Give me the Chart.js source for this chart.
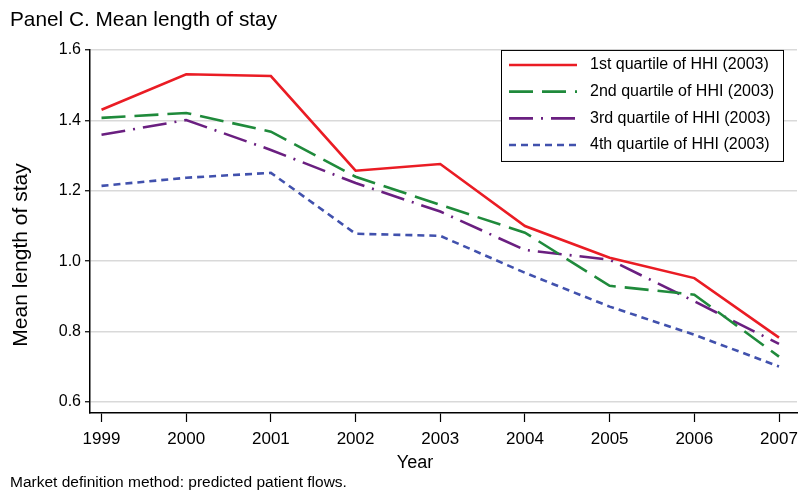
<!DOCTYPE html>
<html>
<head>
<meta charset="utf-8">
<script src="https://cdn.jsdelivr.net/npm/chart.js@4/dist/chart.umd.min.js"></script>
<style>
  html, body { margin: 0; padding: 0; background: #fff; }
  #wrap { width: 801px; height: 492px; }
</style>
</head>
<body>
<div id="wrap"><canvas id="chart"></canvas></div>
<script>
const years = [1999, 2000, 2001, 2002, 2003, 2004, 2005, 2006, 2007];
const q1 = [1.430, 1.531, 1.526, 1.257, 1.276, 1.100, 1.010, 0.952, 0.783];
const q2 = [1.407, 1.421, 1.368, 1.240, 1.160, 1.081, 0.930, 0.905, 0.729];
const q3 = [1.359, 1.401, 1.316, 1.222, 1.141, 1.032, 1.004, 0.886, 0.765];
const q4 = [1.214, 1.237, 1.251, 1.078, 1.072, 0.967, 0.871, 0.791, 0.701];
const yTicks = [0.6, 0.8, 1.0, 1.2, 1.4, 1.6];
const seriesLabels = [
    '1st quartile of HHI (2003)',
    '2nd quartile of HHI (2003)',
    '3rd quartile of HHI (2003)',
    '4th quartile of HHI (2003)'
];

const FONT = '"Liberation Sans", Arial, Helvetica, sans-serif';

const styles = [
    { color: '#ea1c24', dash: [] },
    { color: '#1f8a3b', dash: [24, 9] },
    { color: '#6a1f80', dash: [24, 8, 2, 8] },
    { color: '#4151ad', dash: [7, 5] }
];

const datasets = [q1, q2, q3, q4].map((vals, i) => ({
    label: seriesLabels[i],
    data: years.map((yr, j) => ({ x: yr, y: vals[j] })),
    borderColor: styles[i].color,
    borderDash: styles[i].dash,
    borderWidth: 2.6,
    borderCapStyle: 'butt',
    pointRadius: 0,
    fill: false,
    tension: 0
}));

// legend box inside the plot, plus axis titles and the note
const extras = {
    id: 'extras',
    afterDatasetsDraw(chart) {
        const ctx = chart.ctx;
        const area = chart.chartArea;
        const bx = area.right - 296, by = area.top, bw = 282, bh = 111;
        ctx.save();
        ctx.fillStyle = '#fff';
        ctx.fillRect(bx, by, bw, bh);
        ctx.strokeStyle = '#000';
        ctx.lineWidth = 1;
        ctx.strokeRect(bx + 0.5, by + 0.5, bw, bh);
        chart.data.datasets.forEach((ds, i) => {
            const y = by + 15 + i * 26.7;
            ctx.beginPath();
            ctx.setLineDash(ds.borderDash);
            ctx.strokeStyle = ds.borderColor;
            ctx.lineWidth = 2.6;
            ctx.moveTo(bx + 8, y);
            ctx.lineTo(bx + 76, y);
            ctx.stroke();
            ctx.setLineDash([]);
            ctx.fillStyle = '#000';
            ctx.font = '16px ' + FONT;
            ctx.textBaseline = 'middle';
            ctx.textAlign = 'left';
            ctx.fillText(ds.label, bx + 89, y);
        });
        ctx.restore();
    },
    afterDraw(chart) {
        const ctx = chart.ctx;
        ctx.save();
        ctx.fillStyle = '#000';
        ctx.textBaseline = 'middle';
        // y title
        ctx.save();
        ctx.translate(21, 255);
        ctx.rotate(-Math.PI / 2);
        ctx.textAlign = 'center';
        ctx.font = '21px ' + FONT;
        ctx.fillText('Mean length of stay', 0, 0);
        ctx.restore();
        // x title
        ctx.textAlign = 'center';
        ctx.font = '18px ' + FONT;
        ctx.fillText('Year', 415, 463);
        // note
        ctx.textAlign = 'left';
        ctx.font = '15.5px ' + FONT;
        ctx.fillText('Market definition method: predicted patient flows.', 10, 483);
        ctx.restore();
    }
};

new Chart(document.getElementById('chart'), {
    type: 'line',
    data: { datasets },
    options: {
        responsive: true,
        maintainAspectRatio: false,
        animation: false,
        layout: { padding: { left: 10, right: 4, top: 0, bottom: 0 } },
        plugins: {
            legend: { display: false },
            tooltip: { enabled: false },
            title: {
                display: true,
                text: 'Panel C. Mean length of stay',
                align: 'start',
                color: '#000',
                font: { family: FONT, size: 20.8, weight: 'normal' },
                padding: { top: 8, bottom: 17 }
            }
        },
        scales: {
            x: {
                type: 'linear',
                min: 1998.864,
                max: 2007.2125,
                afterFit: s => { s.height = 79; s.paddingLeft = 0; s.paddingRight = 0; },
                afterBuildTicks: s => { s.ticks = years.map(v => ({ value: v })); },
                ticks: {
                    color: '#000',
                    font: { family: FONT, size: 17 },
                    padding: 7,
                    maxRotation: 0,
                    autoSkip: false,
                    callback: v => String(v)
                },
                grid: {
                    drawOnChartArea: false,
                    tickLength: 9,
                    tickColor: '#000',
                    tickWidth: 1.2
                },
                border: { color: '#000', width: 1.5 }
            },
            y: {
                min: 0.5688,
                max: 1.6,
                afterFit: s => { s.width = 80; },
                afterBuildTicks: s => { s.ticks = yTicks.map(v => ({ value: v })); },
                ticks: {
                    color: '#000',
                    font: { family: FONT, size: 16 },
                    padding: 4,
                    callback: v => v.toFixed(1)
                },
                grid: {
                    color: '#d9d9d9',
                    lineWidth: 1.5,
                    tickLength: 5,
                    tickColor: '#000',
                    tickWidth: 1.2
                },
                border: { color: '#000', width: 1.5 }
            }
        }
    },
    plugins: [extras]
});
</script>
</body>
</html>
